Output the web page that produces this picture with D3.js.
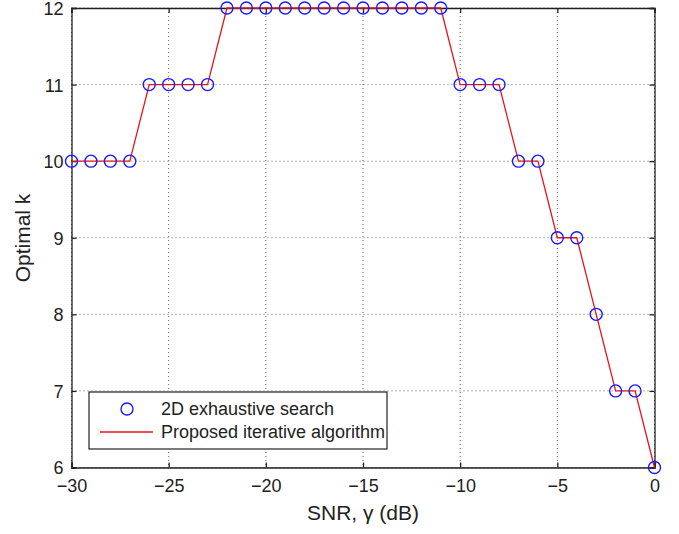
<!DOCTYPE html>
<html><head><meta charset="utf-8">
<script src="https://cdn.jsdelivr.net/npm/d3@7"></script>
<style>body{margin:0;background:#fff}svg{display:block}text{font-family:"Liberation Sans",Arial,sans-serif;fill:#222}</style>
</head><body><svg id="c" width="679" height="534"></svg>
<script>
const snr = [-30,-29,-28,-27,-26,-25,-24,-23,-22,-21,-20,-19,-18,-17,-16,-15,-14,-13,-12,-11,-10,-9,-8,-7,-6,-5,-4,-3,-2,-1,0];
const exhaustive = [10,10,10,10,11,11,11,11,12,12,12,12,12,12,12,12,12,12,12,12,11,11,11,10,10,9,9,8,7,7,6];
const proposed = [10,10,10,10,11,11,11,11,12,12,12,12,12,12,12,12,12,12,12,12,11,11,11,10,10,9,9,8,7,7,6];
const xTicks = [-30,-25,-20,-15,-10,-5,0];
const yTicks = [6,7,8,9,10,11,12];
const legendLabels = ["2D exhaustive search","Proposed iterative algorithm"];

const svg = d3.select("#c");
const L=71.5, R=654.5, T=8, B=467.5;
const x = d3.scaleLinear().domain([-30,0]).range([L,R]);
const y = d3.scaleLinear().domain([6,12]).range([B,T]);

// grid
const g = svg.append("g");
g.selectAll(".gx").data(xTicks).join("line").attr("x1",d=>x(d)).attr("x2",d=>x(d)).attr("y1",T).attr("y2",B)
 .attr("stroke","#666").attr("stroke-width",1).attr("stroke-dasharray","1,3");
g.selectAll(".gy").data(yTicks).join("line").attr("y1",d=>y(d)).attr("y2",d=>y(d)).attr("x1",L).attr("x2",R)
 .attr("stroke","#666").attr("stroke-width",1).attr("stroke-dasharray","1,3");

// axes
const fs = "18px";
const ax = svg.append("g").attr("transform",`translate(0,${B})`).call(d3.axisBottom(x).tickValues(xTicks).tickSize(-5).tickPadding(12).tickFormat(d=>d<0?"\u2212"+Math.abs(d):String(d)));
const axT = svg.append("g").attr("transform",`translate(0,${T})`).call(d3.axisTop(x).tickValues(xTicks).tickSize(-5).tickFormat(""));
const ay = svg.append("g").attr("transform",`translate(${L},0)`).call(d3.axisLeft(y).tickValues(yTicks).tickSize(-5).tickPadding(8).tickFormat(d3.format("d")));
const ayR = svg.append("g").attr("transform",`translate(${R},0)`).call(d3.axisRight(y).tickValues(yTicks).tickSize(-5).tickFormat(""));
[ax,axT,ay,ayR].forEach(a=>{a.select(".domain").attr("stroke","#222").attr("stroke-width",1.3);a.selectAll(".tick line").attr("stroke","#222").attr("stroke-width",1.3);a.selectAll("text").style("font-size",fs).attr("fill","#222").style("font-family","'Liberation Sans',Arial,sans-serif")});
ax.selectAll("text").attr("dy","0.71em");
ay.selectAll("text").attr("dy","0.36em");

// line
svg.append("path").datum(snr.map((s,i)=>[s,proposed[i]]))
 .attr("d",d3.line().x(d=>x(d[0])).y(d=>y(d[1]))).attr("fill","none").attr("stroke","#e8141c").attr("stroke-width",1.3);
// markers
svg.selectAll(".m").data(snr.map((s,i)=>[s,exhaustive[i]])).join("circle")
 .attr("cx",d=>x(d[0])).attr("cy",d=>y(d[1])).attr("r",6).attr("fill","none").attr("stroke","#1a1aff").attr("stroke-width",1.4);

// labels
svg.append("text").attr("x",363).attr("y",520).attr("text-anchor","middle").style("font-size","21px").text("SNR, \u03b3 (dB)");
svg.append("text").attr("transform","translate(30,238) rotate(-90)").attr("text-anchor","middle").style("font-size","21px").text("Optimal k");

// legend
const lg = svg.append("g");
lg.append("rect").attr("x",89).attr("y",392).attr("width",298).attr("height",57).attr("fill","#fff").attr("stroke","#222").attr("stroke-width",1.2);
lg.append("circle").attr("cx",127).attr("cy",409).attr("r",6).attr("fill","none").attr("stroke","#1a1aff").attr("stroke-width",1.4);
lg.append("line").attr("x1",100).attr("x2",153).attr("y1",432).attr("y2",432).attr("stroke","#e8141c").attr("stroke-width",1.3);
lg.selectAll(".lt").data(legendLabels).join("text").attr("x",161).attr("y",(d,i)=>409+i*23).attr("dy","0.35em").style("font-size","18px").text(d=>d);
</script></body></html>
